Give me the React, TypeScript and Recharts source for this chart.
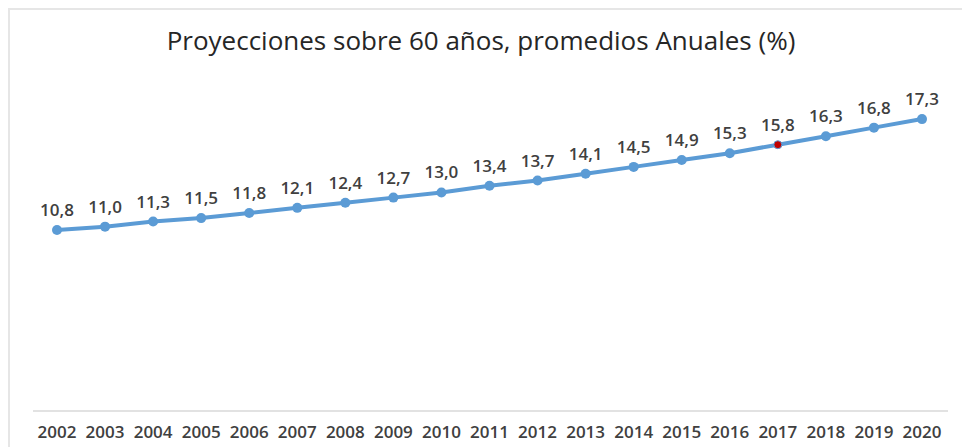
import React from 'react';
import { LineChart, Line, XAxis, YAxis, LabelList } from 'recharts';

const years = [
  '2002', '2003', '2004', '2005', '2006', '2007', '2008', '2009', '2010', '2011',
  '2012', '2013', '2014', '2015', '2016', '2017', '2018', '2019', '2020',
];
const values = [
  10.8, 11.0, 11.3, 11.5, 11.8, 12.1, 12.4, 12.7, 13.0, 13.4,
  13.7, 14.1, 14.5, 14.9, 15.3, 15.8, 16.3, 16.8, 17.3,
];
const highlightYear = '2017';

const data = years.map((y, i) => ({ year: y, value: values[i] }));

const FONT = '"Open Sans", "Liberation Sans", sans-serif';
const TEXT = '#404040';
const BLUE = '#5B9BD5';

const fmt = (v: any) => Number(v).toFixed(1).replace('.', ',');

const Dot = (props: any) => {
  const { cx, cy, payload } = props;
  if (cx == null || cy == null) return null;
  if (payload.year === highlightYear) {
    return <circle cx={cx} cy={cy} r={4} fill="#C00000" stroke={BLUE} strokeWidth={1} />;
  }
  return <circle cx={cx} cy={cy} r={5} fill={BLUE} stroke="none" />;
};

export default function App() {
  return (
    <div style={{ position: 'absolute', left: 0, top: 0, width: 962, height: 447, background: '#fff', fontFamily: FONT }}>
      <div
        style={{
          position: 'absolute', left: 8, top: 8, right: 0, bottom: 0,
          borderLeft: '2px solid #e6e6e6', borderTop: '2px solid #e6e6e6',
        }}
      />
      <div
        style={{
          position: 'absolute', left: 0, width: 962, top: 22, textAlign: 'center',
          fontSize: 26, color: '#262626', fontFamily: FONT, lineHeight: '36px',
        }}
      >
        Proyecciones sobre 60 años, promedios Anuales (%)
      </div>
      <LineChart
        width={962}
        height={447}
        data={data}
        margin={{ top: 73, right: 14, left: 33, bottom: 6 }}
        style={{ position: 'absolute', left: 0, top: 0 }}
      >
        <XAxis
          dataKey="year"
          height={30}
          padding={{ left: 24, right: 26 }}
          axisLine={{ stroke: '#d9d9d9', strokeWidth: 1.5 }}
          tickLine={false}
          interval={0}
          tick={{ fontSize: 17, fill: TEXT, fontFamily: FONT, fontWeight: 600 }}
          tickMargin={9}
        />
        <YAxis hide domain={[0.2, 20]} />
        <Line
          dataKey="value"
          stroke={BLUE}
          strokeWidth={4}
          dot={<Dot />}
          activeDot={false}
          isAnimationActive={false}
        >
          <LabelList
            dataKey="value"
            position="top"
            offset={14}
            formatter={fmt}
            style={{ fontSize: 17, fill: TEXT, fontFamily: FONT, fontWeight: 600 }}
          />
        </Line>
      </LineChart>
    </div>
  );
}
